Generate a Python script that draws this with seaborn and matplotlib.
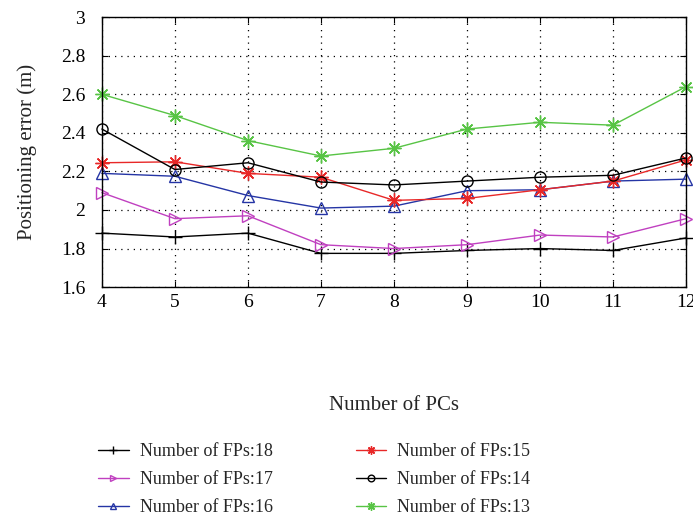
import matplotlib
matplotlib.use("Agg")
import matplotlib.pyplot as plt
import seaborn as sns
import pandas as pd

pcs = [4, 5, 6, 7, 8, 9, 10, 11, 12]
fp18 = [1.88, 1.86, 1.88, 1.775, 1.775, 1.79, 1.80, 1.79, 1.855]
fp17 = [2.09, 1.955, 1.97, 1.82, 1.80, 1.82, 1.87, 1.86, 1.955]
fp16 = [2.19, 2.175, 2.075, 2.01, 2.02, 2.10, 2.105, 2.15, 2.16]
fp15 = [2.245, 2.25, 2.19, 2.17, 2.05, 2.06, 2.105, 2.15, 2.26]
fp14 = [2.42, 2.21, 2.245, 2.145, 2.13, 2.15, 2.17, 2.18, 2.27]
fp13 = [2.60, 2.49, 2.36, 2.28, 2.32, 2.42, 2.455, 2.44, 2.64]
labels = ["Number of FPs:18", "Number of FPs:17", "Number of FPs:16",
          "Number of FPs:15", "Number of FPs:14", "Number of FPs:13"]
series = [fp18, fp17, fp16, fp15, fp14, fp13]
colors = ["#000000", "#c040c0", "#2535a5", "#e82828", "#000000", "#58c445"]
markers = ["+", ">", "^", (8, 2, 0), "o", (8, 2, 0)]
msizes = [10, 8, 8, 10, 8, 10]

sns.set_style("ticks")
plt.rcParams["font.family"] = ["Liberation Serif", "DejaVu Serif"]

fig = plt.figure(figsize=(6.93, 5.22), dpi=100)
ax = fig.add_axes([0.147, 0.450, 0.843, 0.517])

rows = []
for lab, vals in zip(labels, series):
    for x, y in zip(pcs, vals):
        rows.append({"pcs": x, "err": y, "series": lab})
df = pd.DataFrame(rows)

for lab, col, mk, ms in zip(labels, colors, markers, msizes):
    sub = df[df["series"] == lab]
    sns.lineplot(data=sub, x="pcs", y="err", ax=ax, color=col, marker=mk,
                 markersize=ms, markerfacecolor="none",
                 markeredgecolor=col, markeredgewidth=1.0, linewidth=1.0,
                 label=lab, clip_on=False)

ax.set_xlim(4, 12)
ax.set_ylim(1.6, 3.0)
ax.set_xticks(pcs)
ax.set_yticks([1.6, 1.8, 2.0, 2.2, 2.4, 2.6, 2.8, 3.0])
ax.set_yticklabels(["1.6", "1.8", "2", "2.2", "2.4", "2.6", "2.8", "3"])
ax.grid(True, linestyle=(0, (1, 4)), color="black", linewidth=0.9)
for s in ax.spines.values():
    s.set_visible(True)
    s.set_color("black")
    s.set_linewidth(1.0)
ax.tick_params(direction="in", length=4, labelsize=14, colors="black", top=True, right=True)
ax.tick_params(axis="y", pad=12)
ax.tick_params(axis="x", pad=5)
ax.set_xlabel("Number of PCs", fontsize=15, labelpad=61)
ax.set_ylabel("Positioning error (m)", fontsize=15, labelpad=17)

handles, labs = ax.get_legend_handles_labels()
ax.get_legend().remove()
fig.legend(handles, labs, ncol=2, loc="upper left", bbox_to_anchor=(0.1414, 0.151),
           borderaxespad=0, borderpad=0, frameon=False, fontsize=13,
           columnspacing=4.6, handlelength=1.7, handletextpad=0.6,
           labelspacing=0.6, markerscale=0.6)

fig.savefig("out.png", dpi=100)
